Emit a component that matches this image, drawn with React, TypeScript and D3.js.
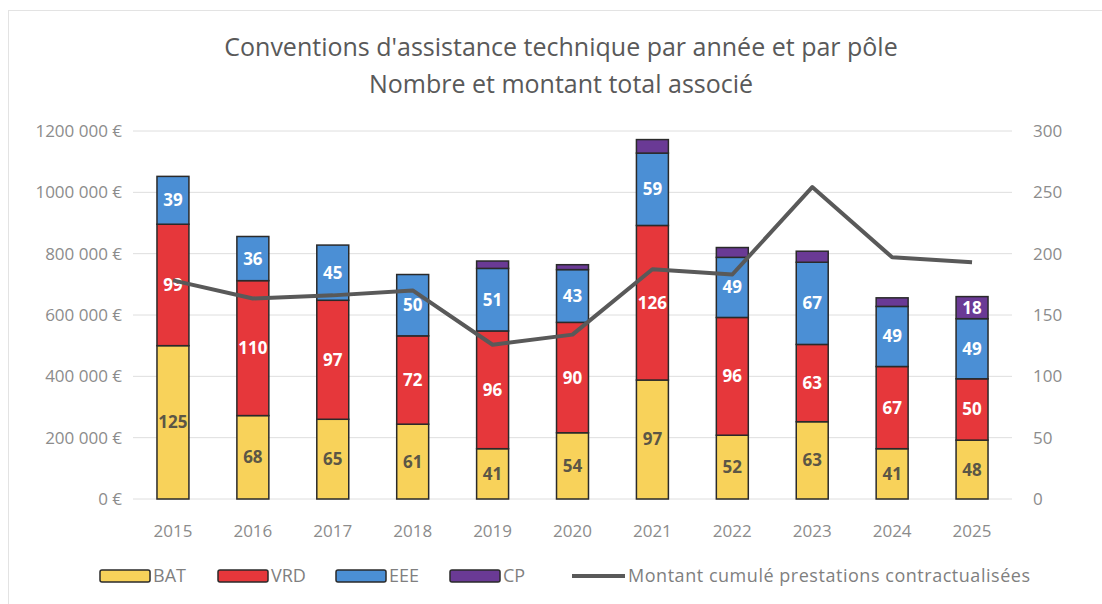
import * as d3 from "d3";

const years = ["2015", "2016", "2017", "2018", "2019", "2020", "2021", "2022", "2023", "2024", "2025"];
const bat = [125, 68, 65, 61, 41, 54, 97, 52, 63, 41, 48];
const vrd = [99, 110, 97, 72, 96, 90, 126, 96, 63, 67, 50];
const eee = [39, 36, 45, 50, 51, 43, 59, 49, 67, 49, 49];
const cp = [0, 0, 0, 0, 6, 4, 11, 8, 9, 7, 18];
const montant = [713000, 654000, 664000, 680000, 503000, 536000, 749000, 732000, 1017000, 788000, 772000];

const leftTicks = [0, 200000, 400000, 600000, 800000, 1000000, 1200000];
const leftTickLabels = ["0 €", "200 000 €", "400 000 €", "600 000 €", "800 000 €", "1000 000 €", "1200 000 €"];
const rightTicks = [0, 50, 100, 150, 200, 250, 300];

const seriesNames = ["BAT", "VRD", "EEE", "CP"];
const seriesColors = ["#F8D25A", "#E6373B", "#4B8FD5", "#6A3A95"];
const labelColors = ["#5b5646", "#ffffff", "#ffffff", "#ffffff"];
const lineName = "Montant cumulé prestations contractualisées";

const W = 1102;
const H = 604;
const margin = { top: 131, right: 90, bottom: 105, left: 133 };
const FONT = "'Open Sans', sans-serif";

export default function App() {
  const innerW = W - margin.left - margin.right;
  const innerH = H - margin.top - margin.bottom;

  const x = d3.scaleBand<string>().domain(years).range([0, innerW]).paddingInner(0.6).paddingOuter(0.3);
  const yLeft = d3.scaleLinear().domain([0, 1200000]).range([innerH, 0]);
  const yRight = d3.scaleLinear().domain([0, 300]).range([innerH, 0]);

  const rows = years.map((yr, i) => ({ year: yr, BAT: bat[i], VRD: vrd[i], EEE: eee[i], CP: cp[i] }));
  const stacked = d3.stack<any>().keys(seriesNames)(rows);

  const line = d3
    .line<number>()
    .x((_, i) => (x(years[i]) as number) + x.bandwidth() / 2)
    .y((d) => yLeft(d));

  const legendItems = [
    { x: 100, label: "BAT", i: 0 },
    { x: 218, label: "VRD", i: 1 },
    { x: 336, label: "EEE", i: 2 },
    { x: 450, label: "CP", i: 3 },
  ];

  return (
    <svg
      width={W}
      height={H}
      style={{ position: "fixed", top: 0, left: 0, background: "#fff", fontFamily: FONT }}
    >
      <rect x={8.5} y={10.5} width={1100} height={600} fill="#fff" stroke="#e3e3e3" />

      {/* Title */}
      <text x={561} y={56} textAnchor="middle" fontSize={25} fill="#595959">
        Conventions d'assistance technique par année et par pôle
      </text>
      <text x={561} y={93} textAnchor="middle" fontSize={25} fill="#595959">
        Nombre et montant total associé
      </text>

      <g transform={`translate(${margin.left},${margin.top})`}>
        {/* gridlines */}
        {leftTicks.map((t) => (
          <line key={t} x1={0} x2={innerW} y1={yLeft(t)} y2={yLeft(t)} stroke="#dedede" strokeWidth={1} />
        ))}

        {/* left axis */}
        {leftTicks.map((t, i) => (
          <text
            key={"l" + t}
            x={-11}
            y={yLeft(t)}
            dy="0.35em"
            textAnchor="end"
            fontSize={17}
            fill="#8c8c8c"
          >
            {leftTickLabels[i]}
          </text>
        ))}

        {/* right axis */}
        {rightTicks.map((t) => (
          <text key={"r" + t} x={innerW + 21} y={yRight(t)} dy="0.35em" fontSize={17} fill="#8c8c8c">
            {t}
          </text>
        ))}

        {/* x axis labels */}
        {years.map((yr) => (
          <text
            key={"x" + yr}
            x={(x(yr) as number) + x.bandwidth() / 2}
            y={innerH + 38}
            textAnchor="middle"
            fontSize={17}
            fill="#8c8c8c"
          >
            {yr}
          </text>
        ))}

        {/* stacked bars */}
        {stacked.map((s, si) => (
          <g key={s.key}>
            {s.map((d, i) => {
              const v = d[1] - d[0];
              if (v <= 0) return null;
              const bx = x(years[i]) as number;
              return (
                <rect
                  key={i}
                  x={bx}
                  y={yRight(d[1])}
                  width={x.bandwidth()}
                  height={yRight(d[0]) - yRight(d[1])}
                  fill={seriesColors[si]}
                  stroke="#2a2a2a"
                  strokeWidth={1.5}
                />
              );
            })}
          </g>
        ))}

        {/* bar labels */}
        {stacked.map((s, si) => (
          <g key={"lab" + s.key}>
            {s.map((d, i) => {
              const v = d[1] - d[0];
              if (v < 15) return null;
              return (
                <text
                  key={i}
                  x={(x(years[i]) as number) + x.bandwidth() / 2}
                  y={yRight((d[0] + d[1]) / 2)}
                  dy="0.35em"
                  textAnchor="middle"
                  fontSize={17}
                  fontWeight="bold"
                  fill={labelColors[si]}
                >
                  {v}
                </text>
              );
            })}
          </g>
        ))}

        {/* line */}
        <path d={line(montant) as string} fill="none" stroke="#595959" strokeWidth={4} strokeLinejoin="round" />
      </g>

      {/* legend */}
      <g fontSize={18} fill="#7f7f7f">
        {legendItems.map((it) => (
          <g key={it.label}>
            <rect
              x={it.x}
              y={570}
              width={50}
              height={12}
              rx={2}
              fill={seriesColors[it.i]}
              stroke="#2a2a2a"
              strokeWidth={1.5}
            />
            <text x={it.x + 53} y={576} dy="0.35em" fill="#7f7f7f">
              {it.label}
            </text>
          </g>
        ))}
        <line x1={572} x2={625} y1={576} y2={576} stroke="#595959" strokeWidth={4} />
        <text x={628} y={576} dy="0.35em" fill="#7f7f7f" textLength={402}>
          {lineName}
        </text>
      </g>
    </svg>
  );
}
